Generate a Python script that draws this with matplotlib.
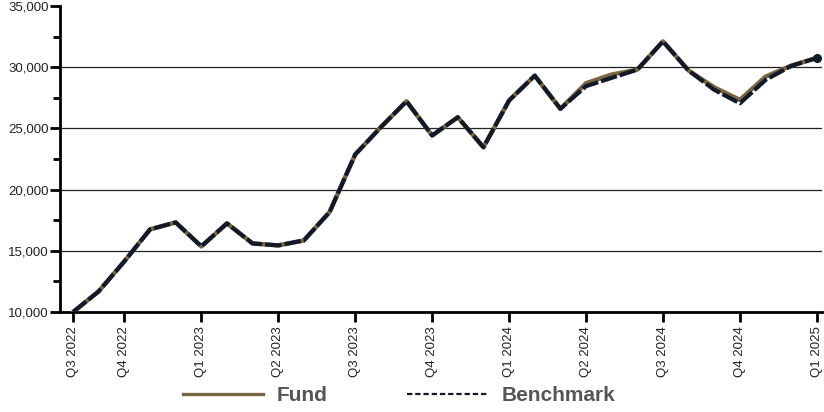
import matplotlib
matplotlib.use("Agg")
import matplotlib.pyplot as plt
from matplotlib.lines import Line2D

tick_labels = ["Q3 2022", "Q4 2022", "Q1 2023", "Q2 2023", "Q3 2023", "Q4 2023",
               "Q1 2024", "Q2 2024", "Q3 2024", "Q4 2024", "Q1 2025"]
tick_index = [0, 2, 5, 8, 11, 14, 17, 20, 23, 26, 29]

fund = [10000, 11690, 14140, 16750, 17320, 15360, 17240, 15600, 15440, 15850,
        18160, 22870, 25100, 27220, 24420, 25910, 23460, 27280, 29310, 26600,
        28690, 29400, 29800, 32110, 29720, 28350, 27330, 29230, 30130, 30760]
benchmark = [10000, 11690, 14140, 16750, 17320, 15360, 17240, 15600, 15440, 15850,
             18160, 22870, 25100, 27220, 24420, 25910, 23460, 27280, 29310, 26600,
             28450, 29130, 29800, 32110, 29720, 28150, 27050, 28960, 30100, 30760]

x = list(range(len(fund)))

plt.rcParams['font.family'] = ['Liberation Sans', 'DejaVu Sans']

fig = plt.figure(figsize=(8.24, 4.12), dpi=100)
ax = fig.add_axes([60/824, 100/412, 762/824, 306/412])

fund_color = '#7a6543'
bench_color = '#101a28'

for yv in [15000, 20000, 25000, 30000]:
    ax.axhline(yv, color='#222222', lw=0.9, zorder=1)

ax.plot(x, fund, color=fund_color, lw=3.2, zorder=3, solid_capstyle='round')
ax.plot(x, benchmark, color=bench_color, lw=3.0, zorder=4,
        linestyle=(0, (4, 0.7)))
ax.plot([x[-1]], [benchmark[-1]], 'o', color=bench_color, ms=5.5, zorder=5)

ax.set_xlim(-0.51, 29.2)
ax.set_ylim(10000, 35000)
yt = [10000, 15000, 20000, 25000, 30000, 35000]
ax.set_yticks(yt)
ax.set_yticks([12500, 17500, 22500, 27500, 32500], minor=True)
ax.set_yticklabels([f"{v:,}" for v in yt], fontsize=9.5, color='#222222')
ax.set_xticks(tick_index)
ax.set_xticklabels(tick_labels, rotation=90, fontsize=9.5, color='#222222')

for s in ['top', 'right']:
    ax.spines[s].set_visible(False)
for s in ['left', 'bottom']:
    ax.spines[s].set_linewidth(2)
    ax.spines[s].set_color('black')
ax.tick_params(axis='x', which='major', length=7, width=2, color='black', pad=3)
ax.tick_params(axis='y', which='major', length=7, width=2, color='black', pad=1)
ax.tick_params(axis='y', which='minor', length=5, width=2, color='black')

# legend
handles = [Line2D([0], [0], color=fund_color, lw=2.4),
           Line2D([0], [0], color=bench_color, lw=1.6, linestyle=(0, (2.4, 1.3)))]
fig.legend(handles, ["Fund", "Benchmark"], loc='center', bbox_to_anchor=(0.4842, 0.04),
           ncol=2, frameon=False, handlelength=3.85, columnspacing=3.8, handletextpad=0.67,
           prop={'family': 'Liberation Sans', 'weight': 'bold', 'size': 15},
           labelcolor='#555555')

fig.savefig("out.png", dpi=100)
